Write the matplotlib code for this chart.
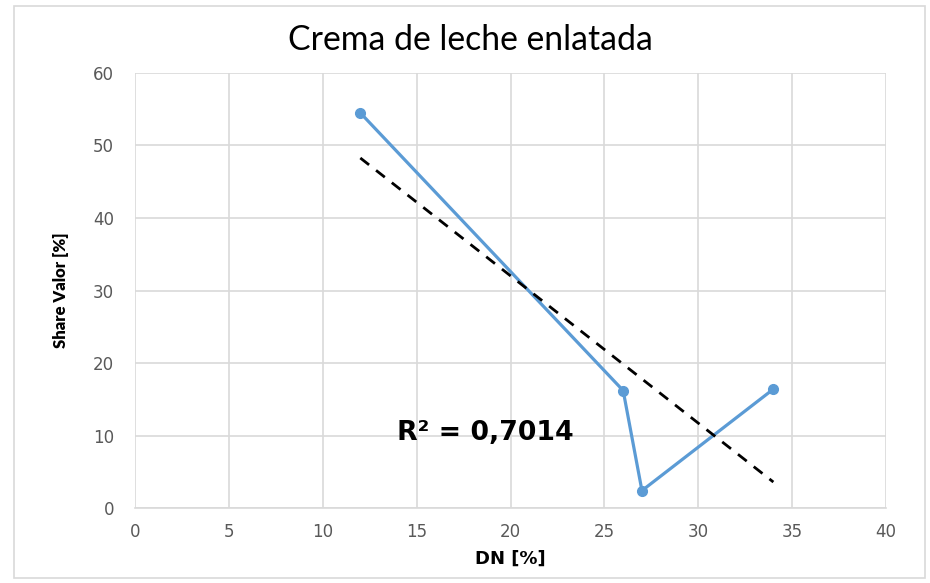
import matplotlib; matplotlib.use('agg')
import matplotlib.pyplot as plt
import numpy as np

# data
dn = [12, 26, 27, 34]
share = [54.5, 16.2, 2.4, 16.4]
r2_label = 'R² = 0,7014'
title = 'Crema de leche enlatada'

fig = plt.figure(figsize=(9.3, 5.83), dpi=100)
ax = fig.add_axes([0.1452, 0.1286, 0.8075, 0.7462])

# outer chart frame
frame = plt.Rectangle((0.015, 0.008), 0.98, 0.982, transform=fig.transFigure,
                      fill=False, edgecolor='#d9d9d9', lw=1.2)
fig.patches.append(frame)

ax.plot(dn, share, '-o', color='#5b9bd5', lw=2.3, markersize=7, zorder=3)

# linear trendline
coef = np.polyfit(dn, share, 1)
xs = np.array([min(dn), max(dn)])
ax.plot(xs, np.polyval(coef, xs), '--', color='black', lw=2.0,
        dashes=(4, 3.2), zorder=4)

ax.text(13.95, 10.3, r2_label, fontsize=19.3, fontweight='bold',
        va='center', ha='left', family='DejaVu Sans')

ax.set_xlim(0, 40)
ax.set_ylim(0, 60)
ax.set_xticks(np.arange(0, 41, 5))
ax.set_yticks(np.arange(0, 61, 10))
ax.grid(True, color='#d9d9d9', lw=1.2)
ax.set_axisbelow(True)
for s in ['top', 'right', 'left']:
    ax.spines[s].set_visible(False)
ax.spines['bottom'].set_color('#d9d9d9')
ax.spines['bottom'].set_linewidth(1.2)
ax.tick_params(length=0, colors='#595959', labelsize=12)
ax.tick_params(axis='y', pad=15)
ax.tick_params(axis='x', pad=11)

ax.set_xlabel('DN [%]', fontsize=13, fontweight='bold')
ax.xaxis.set_label_coords(0.5, -0.095)
ax.set_ylabel('Share Valor [%]', fontsize=12, fontweight='heavy',
              family='Lato')
ax.yaxis.set_label_coords(-0.088, 0.5)
fig.text(0.506, 0.932, title, fontsize=24.3, ha='center', va='center',
         family='Lato')

fig.savefig('out.png', dpi=100)
